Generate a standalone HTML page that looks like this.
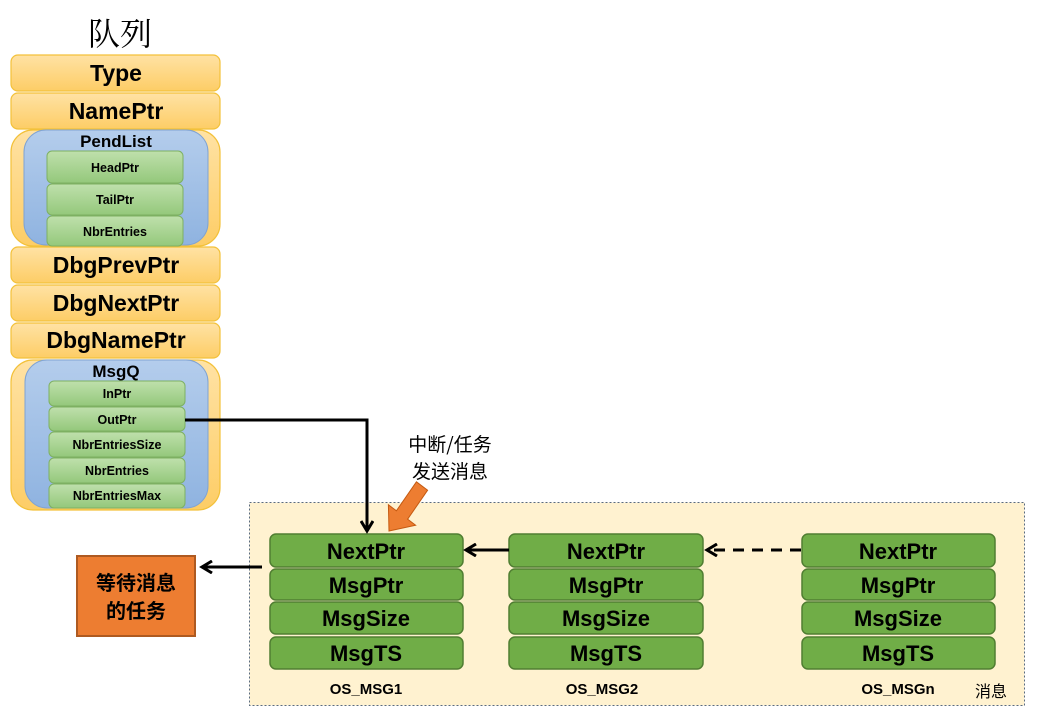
<!DOCTYPE html>
<html><head><meta charset="utf-8"><style>
html,body{margin:0;padding:0;background:#fff;width:1050px;height:724px;overflow:hidden}
text{font-family:"Liberation Sans","Noto Sans CJK SC",sans-serif;font-weight:bold;fill:#000}
.cn{font-family:"Noto Sans CJK SC","WenQuanYi Zen Hei",sans-serif}
</style></head><body>
<svg width="1050" height="724" viewBox="0 0 1050 724" xmlns="http://www.w3.org/2000/svg">
<defs>
<linearGradient id="og" x1="0" y1="0" x2="0" y2="1"><stop offset="0" stop-color="#ffe2a4"/><stop offset="1" stop-color="#fdcd66"/></linearGradient>
<linearGradient id="bg" x1="0" y1="0" x2="0" y2="1"><stop offset="0" stop-color="#b4cdec"/><stop offset="1" stop-color="#8fb3e0"/></linearGradient>
<linearGradient id="lg" x1="0" y1="0" x2="0" y2="1"><stop offset="0" stop-color="#bfe0ac"/><stop offset="1" stop-color="#94c87b"/></linearGradient>
<marker id="ah" markerWidth="14" markerHeight="14" refX="11" refY="7" orient="auto" markerUnits="userSpaceOnUse"><path d="M1,1 L11,7 L1,13" fill="none" stroke="#000" stroke-width="3"/></marker>
</defs>
<text x="120" y="45" text-anchor="middle" class="cn" font-size="32" style="font-weight:normal;font-family:'Noto Serif CJK SC',serif">队列</text>
<g stroke="#f3c13a" stroke-width="1.2" fill="url(#og)">
<rect x="11" y="55" width="209" height="36" rx="7"/>
<rect x="11" y="93" width="209" height="36" rx="7"/>
<rect x="11" y="130" width="209" height="116" rx="22"/>
<rect x="11" y="247" width="209" height="36" rx="7"/>
<rect x="11" y="285" width="209" height="36" rx="7"/>
<rect x="11" y="323" width="209" height="35" rx="7"/>
<rect x="11" y="360" width="209" height="150" rx="22"/>
</g>
<g stroke="#7fa3d3" stroke-width="1" fill="url(#bg)">
<rect x="24" y="130" width="184" height="115" rx="22"/>
<rect x="25" y="360" width="183" height="148" rx="22"/>
</g>
<g stroke="#7db062" stroke-width="1" fill="url(#lg)">
<rect x="47" y="151" width="136" height="32" rx="5"/>
<rect x="47" y="184" width="136" height="31" rx="5"/>
<rect x="47" y="216" width="136" height="30" rx="5"/>
<rect x="49" y="381" width="136" height="25" rx="5"/>
<rect x="49" y="407" width="136" height="24" rx="5"/>
<rect x="49" y="432" width="136" height="25" rx="5"/>
<rect x="49" y="458" width="136" height="25" rx="5"/>
<rect x="49" y="484" width="136" height="24" rx="5"/>
</g>
<g text-anchor="middle" font-size="23">
<text x="116" y="81">Type</text>
<text x="116" y="119">NamePtr</text>
<text x="116" y="273">DbgPrevPtr</text>
<text x="116" y="311">DbgNextPtr</text>
<text x="116" y="348">DbgNamePtr</text>
</g>
<g text-anchor="middle" font-size="17">
<text x="116" y="147">PendList</text>
<text x="116" y="377">MsgQ</text>
</g>
<g text-anchor="middle" font-size="12.5">
<text x="115" y="172">HeadPtr</text>
<text x="115" y="204">TailPtr</text>
<text x="115" y="236">NbrEntries</text>
<text x="117" y="398">InPtr</text>
<text x="117" y="424">OutPtr</text>
<text x="117" y="449">NbrEntriesSize</text>
<text x="117" y="475">NbrEntries</text>
<text x="117" y="500">NbrEntriesMax</text>
</g>
<rect x="249.5" y="502.5" width="775" height="203" fill="#fff2d0" stroke="#5a6b80" stroke-width="1" stroke-dasharray="2,2"/>
<g stroke="#507e32" stroke-width="1.5" fill="#70ad47">
<rect x="270" y="534" width="193" height="33" rx="6"/><rect x="270" y="569" width="193" height="31" rx="6"/><rect x="270" y="602" width="193" height="32" rx="6"/><rect x="270" y="637" width="193" height="32" rx="6"/>
<rect x="509" y="534" width="194" height="33" rx="6"/><rect x="509" y="569" width="194" height="31" rx="6"/><rect x="509" y="602" width="194" height="32" rx="6"/><rect x="509" y="637" width="194" height="32" rx="6"/>
<rect x="802" y="534" width="193" height="33" rx="6"/><rect x="802" y="569" width="193" height="31" rx="6"/><rect x="802" y="602" width="193" height="32" rx="6"/><rect x="802" y="637" width="193" height="32" rx="6"/>
</g>
<g text-anchor="middle" font-size="22">
<text x="366" y="559">NextPtr</text><text x="366" y="593">MsgPtr</text><text x="366" y="626">MsgSize</text><text x="366" y="661">MsgTS</text>
<text x="606" y="559">NextPtr</text><text x="606" y="593">MsgPtr</text><text x="606" y="626">MsgSize</text><text x="606" y="661">MsgTS</text>
<text x="898" y="559">NextPtr</text><text x="898" y="593">MsgPtr</text><text x="898" y="626">MsgSize</text><text x="898" y="661">MsgTS</text>
</g>
<g text-anchor="middle" font-size="15">
<text x="366" y="694">OS_MSG1</text><text x="602" y="694">OS_MSG2</text><text x="898" y="694">OS_MSGn</text>
</g>
<text x="991" y="697" text-anchor="middle" class="cn" font-size="16" style="font-weight:normal">消息</text>
<rect x="77" y="556" width="118" height="80" fill="#ed7d31" stroke="#ae5a21" stroke-width="2"/>
<text x="136" y="590" text-anchor="middle" class="cn" font-size="20">等待消息</text>
<text x="136" y="618" text-anchor="middle" class="cn" font-size="20">的任务</text>
<text x="450" y="451" text-anchor="middle" class="cn" font-size="19" style="font-weight:normal">中断/任务</text>
<text x="450" y="478" text-anchor="middle" class="cn" font-size="19" style="font-weight:normal">发送消息</text>
<polygon points="416.4,481.8 427.6,490.2 407.6,519.2 415.6,525.2 389,531 388.4,504.8 396.4,510.8" fill="#ed7d31" stroke="#c55a11" stroke-width="1"/>
<g stroke="#000" stroke-width="3" fill="none">
<polyline points="185,420 367,420 367,531" marker-end="url(#ah)"/>
<line x1="509" y1="550" x2="466" y2="550" marker-end="url(#ah)"/>
<line x1="801" y1="550" x2="707" y2="550" stroke-dasharray="11,8" marker-end="url(#ah)"/>
<line x1="262" y1="567" x2="202" y2="567" marker-end="url(#ah)"/>
</g>
</svg>
</body></html>
